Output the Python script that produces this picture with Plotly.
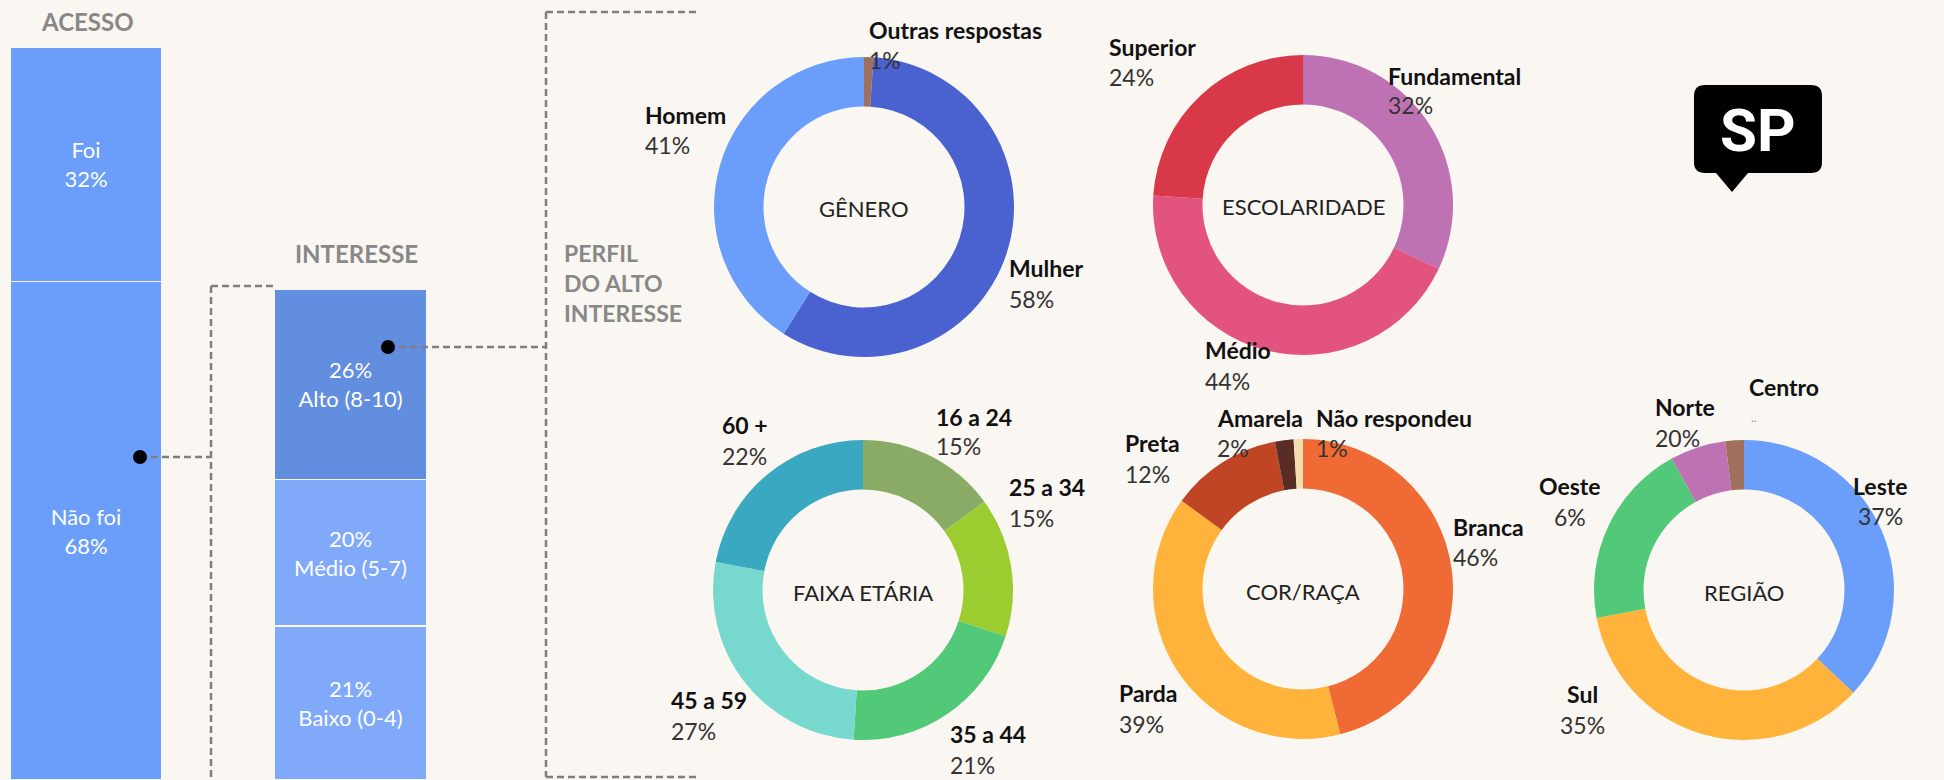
import plotly.graph_objects as go

W, H = 1944, 780
BG = "#faf6f1"
FONT = "Lato"

# ---------------- data ----------------
acesso_cats = ["Não foi", "Foi"]
acesso_vals = [68, 32]

interesse_cats = ["Baixo (0-4)", "Médio (5-7)", "Alto (8-10)"]
interesse_vals = [21, 20, 26]

genero_cats = ["Outras respostas", "Mulher", "Homem"]
genero_vals = [1, 58, 41]

escolaridade_cats = ["Fundamental", "Médio", "Superior"]
escolaridade_vals = [32, 44, 24]

faixa_cats = ["16 a 24", "25 a 34", "35 a 44", "45 a 59", "60 +"]
faixa_vals = [15, 15, 21, 27, 22]

cor_cats = ["Branca", "Parda", "Preta", "Amarela", "Não respondeu"]
cor_vals = [46, 39, 12, 2, 1]

regiao_cats = ["Leste", "Sul", "Oeste", "Norte", "Centro"]
regiao_vals = [37, 35, 20, 6, 2]
regiao_rotulos = ["37%", "35%", "6%", "20%", ".."]   # as printed on the chart

# ---------------- styles ----------------
acesso_colors = ["#6a9efa", "#6a9efa"]
interesse_colors = ["#80a9f9", "#80a9f9", "#628ee0"]
genero_colors = ["#a0705f", "#4a62d0", "#6a9efa"]
escolaridade_colors = ["#bf72b3", "#e2547f", "#d93848"]
faixa_colors = ["#8aab66", "#9bcd31", "#52c879", "#77d9cd", "#3ba8c2"]
cor_colors = ["#f06a35", "#ffb33a", "#bf4525", "#5a2c26", "#f5ddb0"]
regiao_colors = ["#6a9efa", "#ffb33a", "#52c879", "#bf72b3", "#a0705f"]


def px(x):
    return x / W


def py(y):
    return 1 - y / H


fig = go.Figure()

# ---------------- stacked bars ----------------
bar_unit = 264.5
x0 = -86 / bar_unit
x1 = (546 - 86) / bar_unit
bar_w = 152 / bar_unit

for cat, val, col in zip(acesso_cats, acesso_vals, acesso_colors):
    fig.add_trace(go.Bar(
        x=["ACESSO"], y=[val], width=[bar_w],
        marker=dict(color=col, line=dict(color=BG, width=1.5)),
        text=[f"{cat}<br>{val}%"], textposition="inside",
        insidetextanchor="middle", textangle=0,
        textfont=dict(family=FONT, size=22, color="white"),
        hoverinfo="skip", showlegend=False,
        xaxis="x", yaxis="y",
    ))

for cat, val, col in zip(interesse_cats, interesse_vals, interesse_colors):
    fig.add_trace(go.Bar(
        x=["INTERESSE"], y=[val], width=[bar_w],
        marker=dict(color=col, line=dict(color=BG, width=1.5)),
        text=[f"{val}%<br>{cat}"], textposition="inside",
        insidetextanchor="middle", textangle=0,
        textfont=dict(family=FONT, size=22, color="white"),
        hoverinfo="skip", showlegend=False,
        xaxis="x", yaxis="y",
    ))

# ---------------- donuts ----------------
R = 150
donuts = [
    ("GÊNERO", genero_cats, genero_vals, genero_colors, 864, 207),
    ("ESCOLARIDADE", escolaridade_cats, escolaridade_vals, escolaridade_colors, 1303, 205),
    ("FAIXA ETÁRIA", faixa_cats, faixa_vals, faixa_colors, 863, 590),
    ("COR/RAÇA", cor_cats, cor_vals, cor_colors, 1303, 589),
    ("REGIÃO", regiao_cats, regiao_vals, regiao_colors, 1744, 590),
]

annotations = []
for title, cats, vals, cols, cx, cy in donuts:
    fig.add_trace(go.Pie(
        labels=cats, values=vals, sort=False, direction="clockwise",
        rotation=0, hole=0.67, textinfo="none", hoverinfo="skip",
        marker=dict(colors=cols, line=dict(width=0)),
        domain=dict(x=[px(cx - R), px(cx + R)], y=[py(cy + R), py(cy - R)]),
        showlegend=False,
    ))
    annotations.append(dict(
        text=title, x=px(cx), y=py(cy + 2), xref="paper", yref="paper",
        showarrow=False, xanchor="center", yanchor="middle",
        font=dict(family=FONT, size=22, color="#222222"),
    ))

# label positions: (name, x, y_name, y_pct, anchor)
label_pos = {
    "Outras respostas": (867, 30, 60, "left"),
    "Homem": (643, 115, 145, "left"),
    "Mulher": (1007, 268, 299, "left"),
    "Superior": (1107, 47, 77, "left"),
    "Fundamental": (1386, 76, 105, "left"),
    "Médio": (1203, 350, 381, "left"),
    "60 +": (720, 425, 456, "left"),
    "16 a 24": (934, 417, 446, "left"),
    "25 a 34": (1007, 487, 518, "left"),
    "35 a 44": (948, 734, 765, "left"),
    "45 a 59": (669, 700, 731, "left"),
    "Preta": (1123, 443, 474, "left"),
    "Amarela": (1215, 418, 448, "left"),
    "Não respondeu": (1314, 418, 448, "left"),
    "Branca": (1451, 527, 557, "left"),
    "Parda": (1117, 693, 724, "left"),
    "Centro": (1747, 387, 417, "left"),
    "Norte": (1653, 407, 438, "left"),
    "Oeste": (1570, 486, 517, "center"),
    "Leste": (1880, 486, 516, "center"),
    "Sul": (1582, 694, 725, "center"),
}


def add_label(name, pct):
    x, yn, yp, anc = label_pos[name]
    annotations.append(dict(
        text=f"<b>{name}</b>", x=px(x), y=py(yn), xref="paper", yref="paper",
        showarrow=False, xanchor=anc, yanchor="middle",
        font=dict(family=FONT, size=23, color="#111111"),
    ))
    small = pct == ".."
    annotations.append(dict(
        text=pct, x=px(x + (2 if small else 0)), y=py(yp), xref="paper", yref="paper",
        showarrow=False, xanchor=anc, yanchor="middle",
        font=dict(family=FONT, size=12 if small else 23,
                  color="#888888" if small else "#333333"),
    ))


for cats, vals in [(genero_cats, genero_vals), (escolaridade_cats, escolaridade_vals),
                   (faixa_cats, faixa_vals), (cor_cats, cor_vals)]:
    for c, v in zip(cats, vals):
        add_label(c, f"{v}%")
for c, t in zip(regiao_cats, regiao_rotulos):
    add_label(c, t)

# section titles
GRAY = "#888888"
annotations += [
    dict(text="<b>ACESSO</b>", x=px(87), y=py(21), xref="paper", yref="paper",
         showarrow=False, xanchor="center", yanchor="middle",
         font=dict(family=FONT, size=24, color=GRAY)),
    dict(text="<b>INTERESSE</b>", x=px(356), y=py(254), xref="paper", yref="paper",
         showarrow=False, xanchor="center", yanchor="middle",
         font=dict(family=FONT, size=24, color=GRAY)),
    dict(text="<b>PERFIL<br>DO ALTO<br>INTERESSE</b>", x=px(562), y=py(283),
         xref="paper", yref="paper", showarrow=False, xanchor="left",
         yanchor="middle", align="left",
         font=dict(family=FONT, size=23, color=GRAY)),
    dict(text="<b>SP</b>", x=px(1758), y=py(131), xref="paper", yref="paper",
         showarrow=False, xanchor="center", yanchor="middle",
         font=dict(family="Roboto", size=60, color="white")),
]

# ---------------- decorative shapes ----------------
shapes = []
DASH = "7px,4px"
LC = "#7f7f7f"
segments = [
    ((140, 457), (211, 457)),
    ((211, 286), (211, 782)),
    ((211, 286), (274, 286)),
    ((388, 347), (546, 347)),
    ((546, 12), (546, 777)),
    ((546, 12), (696, 12)),
    ((546, 777), (700, 777)),
]
for (xa, ya), (xb, yb) in segments:
    shapes.append(dict(type="line", xref="paper", yref="paper",
                       x0=px(xa), y0=py(ya), x1=px(xb), y1=py(yb),
                       line=dict(color=LC, width=2.5, dash=DASH), layer="above"))
for (dx, dy) in [(140, 457), (388, 347)]:
    r = 7
    shapes.append(dict(type="circle", xref="paper", yref="paper",
                       x0=px(dx - r), x1=px(dx + r), y0=py(dy + r), y1=py(dy - r),
                       fillcolor="black", line=dict(width=0), layer="above"))

# SP speech badge
bx0, bx1, by0, by1, rr = 1694, 1822, 85, 173, 11
pts = [
    ("M", bx0 + rr, by0), ("L", bx1 - rr, by0), ("Q", bx1, by0, bx1, by0 + rr),
    ("L", bx1, by1 - rr), ("Q", bx1, by1, bx1 - rr, by1),
    ("L", 1748, by1), ("L", 1732, 192), ("L", 1716, by1),
    ("L", bx0 + rr, by1), ("Q", bx0, by1, bx0, by1 - rr),
    ("L", bx0, by0 + rr), ("Q", bx0, by0, bx0 + rr, by0),
]
path = ""
for p in pts:
    cmd = p[0]
    coords = p[1:]
    s = " ".join(f"{px(coords[i]):.5f},{py(coords[i + 1]):.5f}" for i in range(0, len(coords), 2))
    path += f"{cmd}{s} "
path += "Z"
shapes.append(dict(type="path", xref="paper", yref="paper", path=path,
                   fillcolor="black", line=dict(width=0), layer="below"))

fig.update_layout(
    width=W, height=H,
    margin=dict(l=0, r=0, t=0, b=0),
    paper_bgcolor=BG, plot_bgcolor="rgba(0,0,0,0)",
    barmode="stack", bargap=0,
    xaxis=dict(domain=[0, px(546)], range=[x0, x1], type="category",
               categoryorder="array", categoryarray=["ACESSO", "INTERESSE"],
               visible=False, fixedrange=True),
    yaxis=dict(domain=[0, py(47)], range=[0, 100], visible=False, fixedrange=True),
    annotations=annotations,
    shapes=shapes,
    font=dict(family=FONT),
    uniformtext=dict(mode=False),
)

post = (
    "document.body.style.margin='0';"
    "document.body.style.padding='0';"
    "document.body.style.overflow='hidden';"
    f"document.body.style.background='{BG}';"
    f"document.documentElement.style.background='{BG}';"
)
fig.write_html("out.html", config={"displayModeBar": False, "staticPlot": True},
               post_script=post)
